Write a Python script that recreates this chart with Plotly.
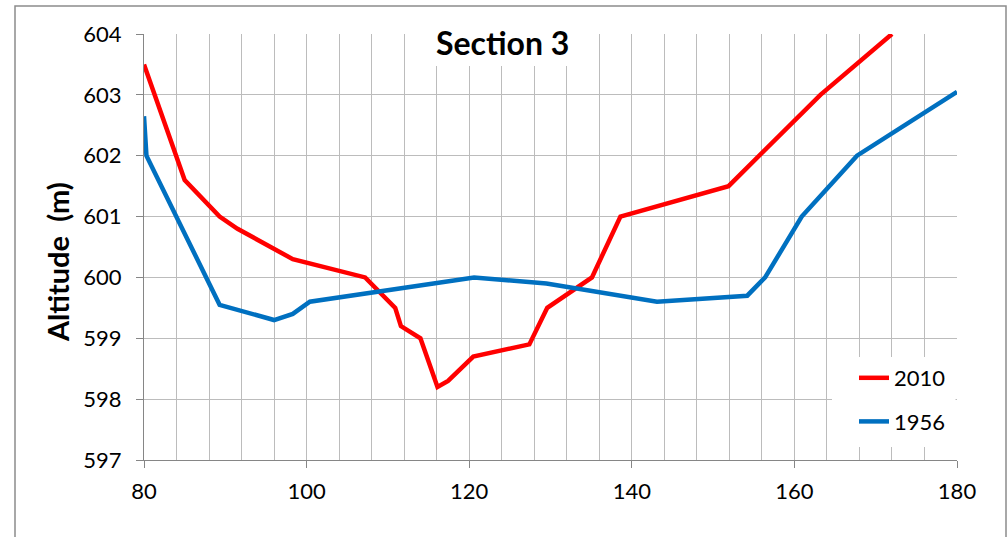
import plotly.graph_objects as go

# Cross-section survey: distance (m) vs altitude (m)
dist_2010 = [80, 85.0, 89.3, 91.5, 98.3, 107.2, 110.9, 111.6, 114.0, 116.1, 117.4,
             120.5, 127.4, 129.6, 135.1, 138.6, 151.9, 163.2, 172.0]
alt_2010 = [603.5, 601.6, 601.0, 600.8, 600.3, 600.0, 599.5, 599.2, 599.0, 598.2, 598.3,
            598.7, 598.9, 599.5, 600.0, 601.0, 601.5, 603.0, 604.0]

dist_1956 = [80, 80.3, 89.3, 96.0, 98.3, 100.4, 120.6, 129.5, 143.1, 154.2, 156.4,
             160.9, 167.7, 180.0]
alt_1956 = [602.65, 602.0, 599.55, 599.3, 599.4, 599.6, 600.0, 599.9, 599.6, 599.7, 600.0,
            601.0, 602.0, 603.05]

x_ticks = [80, 100, 120, 140, 160, 180]
y_ticks = [597, 598, 599, 600, 601, 602, 603, 604]

FONT = "Lato"
AXIS_COLOR = "#868686"
GRID_COLOR = "#bcbcbc"

fig = go.Figure()
fig.add_trace(go.Scatter(x=dist_2010, y=alt_2010, mode="lines", name="2010",
                         legendgroup="a",
                         line=dict(color="#ff0000", width=4.5)))
fig.add_trace(go.Scatter(x=dist_1956, y=alt_1956, mode="lines", name="1956",
                         legendgroup="b",
                         line=dict(color="#0070c0", width=4.5)))

L, R, T, B = 144, 51, 34, 77
W, H = 1008, 537
pw, ph = W - L - R, H - T - B


def px_x(px):
    return (px - L) / pw


def px_y(py):
    return (H - B - py) / ph


fig.update_layout(
    width=W, height=H,
    margin=dict(l=L, r=R, t=T, b=B),
    paper_bgcolor="white", plot_bgcolor="white",
    font=dict(family=FONT, size=22, color="black"),
    showlegend=True,
    legend=dict(x=px_x(854), y=px_y(357), xanchor="left", yanchor="top",
                bgcolor="white", font=dict(family=FONT, size=22, color="black"),
                tracegroupgap=12, traceorder="grouped"),
    xaxis=dict(range=[80, 180], tickvals=x_ticks, ticks="outside", ticklen=7,
               tickcolor=AXIS_COLOR, tickwidth=1.3, ticklabelstandoff=4,
               showline=True, linecolor=AXIS_COLOR, linewidth=1.3,
               showgrid=True, gridcolor=GRID_COLOR, gridwidth=1.2, zeroline=False,
               minor=dict(dtick=4, tick0=80, showgrid=True, gridcolor=GRID_COLOR,
                          gridwidth=1.2, ticks=""),
               tickfont=dict(family=FONT, size=22, color="black")),
    yaxis=dict(range=[597, 604], tickvals=y_ticks, ticks="outside", ticklen=7,
               tickcolor=AXIS_COLOR, tickwidth=1.3, ticklabelstandoff=10,
               showline=True, linecolor=AXIS_COLOR, linewidth=1.3,
               showgrid=True, gridcolor=GRID_COLOR, gridwidth=1.2, zeroline=False,
               tickfont=dict(family=FONT, size=22, color="black")),
)

shapes = [
    # chart frame
    dict(type="rect", xref="paper", yref="paper",
         x0=px_x(15), x1=px_x(1006), y0=px_y(560), y1=px_y(6),
         line=dict(color="#8c8c8c", width=1.5), fillcolor="rgba(0,0,0,0)", layer="above"),
    # white backing behind the title
    dict(type="rect", xref="paper", yref="paper",
         x0=px_x(429), x1=px_x(576), y0=px_y(66), y1=px_y(30),
         line=dict(width=0), fillcolor="white", layer="above"),
    # white backing behind the legend
    dict(type="rect", xref="paper", yref="paper",
         x0=px_x(832), x1=px_x(955.5), y0=px_y(447), y1=px_y(357),
         line=dict(width=0), fillcolor="white", layer="above"),
]
fig.update_layout(shapes=shapes)

fig.add_annotation(text="<b>Section 3</b>", xref="paper", yref="paper",
                   x=px_x(502.5), y=px_y(43), xanchor="center", yanchor="middle",
                   showarrow=False, font=dict(family=FONT, size=32, color="black"))
fig.add_annotation(text="<b>Altitude  (m)</b>", xref="paper", yref="paper",
                   x=px_x(57), y=px_y(262), xanchor="center", yanchor="middle",
                   textangle=-90, showarrow=False,
                   font=dict(family=FONT, size=29, color="black"))

fig.write_html("out.html")
